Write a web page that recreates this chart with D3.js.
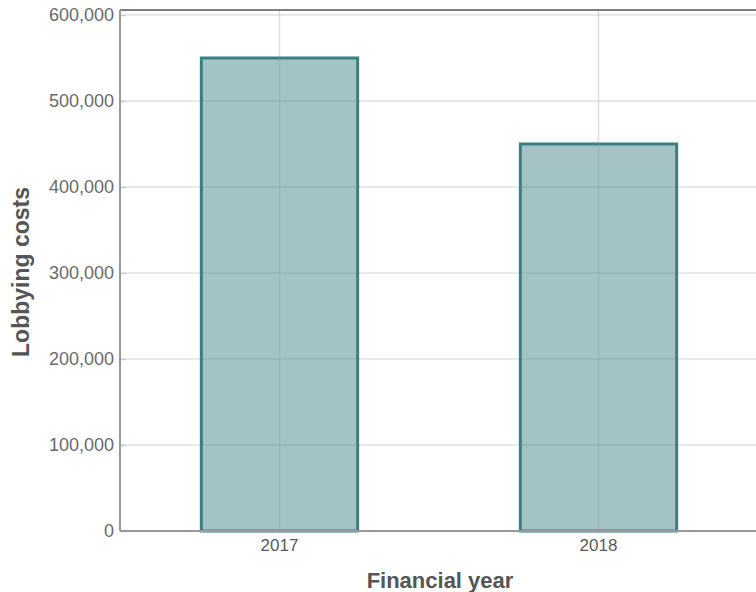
<!DOCTYPE html>
<html>
<head>
<meta charset="utf-8">
<script src="https://cdn.jsdelivr.net/npm/d3@7"></script>
<style>
  body { margin: 0; background: #fff; }
  svg { display: block; font-family: "Liberation Sans", Arial, sans-serif; }
</style>
</head>
<body>
<div id="chart"></div>
<script>
// chart data
const years = ["2017", "2018"];
const costs = [550000, 450000];
const yTicks = [0, 100000, 200000, 300000, 400000, 500000, 600000];

const width = 756;
const height = 592;
const margin = {left: 120, right: -2, top: 15, bottom: 61};

const svg = d3.select("#chart")
  .append("svg")
  .attr("width", width)
  .attr("height", height);

// scales
const xScale = d3.scaleBand()
  .domain(years)
  .range([margin.left, width - margin.right])
  .paddingInner(0.51)
  .paddingOuter(0.255);

const yScale = d3.scaleLinear()
  .domain([0, 600000])
  .range([height - margin.bottom, margin.top]);

// horizontal grid
svg.append("g")
  .selectAll("line")
  .data(yTicks)
  .join("line")
    .attr("x1", margin.left)
    .attr("x2", width)
    .attr("y1", d => yScale(d))
    .attr("y2", d => yScale(d))
    .attr("stroke", "#e2e2e2")
    .attr("stroke-width", 1.5);

// bars
svg.append("g")
  .selectAll("rect")
  .data(costs)
  .join("rect")
    .attr("x", (d, i) => xScale(years[i]))
    .attr("y", d => yScale(d))
    .attr("width", xScale.bandwidth())
    .attr("height", d => yScale(0) - yScale(d))
    .attr("fill", "rgba(80,140,143,0.52)")
    .attr("stroke", "#3b7f83")
    .attr("stroke-width", 3);

// vertical grid on top of the bars
svg.append("g")
  .selectAll("line")
  .data(years)
  .join("line")
    .attr("x1", d => xScale(d) + xScale.bandwidth() / 2)
    .attr("x2", d => xScale(d) + xScale.bandwidth() / 2)
    .attr("y1", 10)
    .attr("y2", yScale(0))
    .attr("stroke", "rgba(150,150,150,0.3)")
    .attr("stroke-width", 1.5);

// top frame line
svg.append("line")
  .attr("x1", margin.left).attr("x2", width)
  .attr("y1", 10).attr("y2", 10)
  .attr("stroke", "#555").attr("stroke-width", 1.5);

// y axis
const yAxis = svg.append("g")
  .attr("transform", `translate(${margin.left},0)`)
  .call(d3.axisLeft(yScale).tickValues(yTicks).tickFormat(d3.format(",")).tickSizeInner(-6).tickSizeOuter(0).tickPadding(13));
yAxis.select(".domain").remove();
yAxis.selectAll(".tick line").attr("stroke", "#ccc").attr("stroke-width", 1.5);
yAxis.selectAll("text").attr("fill", "#6a6a6a").attr("font-size", "18px").attr("dx", "7");

svg.append("line")
  .attr("x1", margin.left).attr("x2", margin.left)
  .attr("y1", 10).attr("y2", yScale(0))
  .attr("stroke", "#999").attr("stroke-width", 2);

// x axis
const xAxis = svg.append("g")
  .attr("transform", `translate(0,${yScale(0)})`)
  .call(d3.axisBottom(xScale).tickSize(0).tickPadding(8));
xAxis.select(".domain").remove();
xAxis.selectAll("text").attr("fill", "#5a5a5a").attr("font-size", "17px");

svg.append("line")
  .attr("x1", margin.left).attr("x2", width)
  .attr("y1", yScale(0)).attr("y2", yScale(0))
  .attr("stroke", "#999").attr("stroke-width", 2);

// axis titles
svg.append("text")
  .attr("x", 440)
  .attr("y", 588)
  .attr("text-anchor", "middle")
  .attr("font-size", "22px")
  .attr("font-weight", "bold")
  .attr("fill", "#555")
  .text("Financial year");

svg.append("text")
  .attr("transform", "translate(29,272) rotate(-90)")
  .attr("text-anchor", "middle")
  .attr("font-size", "23px")
  .attr("font-weight", "bold")
  .attr("fill", "#555")
  .text("Lobbying costs");
</script>
</body>
</html>
